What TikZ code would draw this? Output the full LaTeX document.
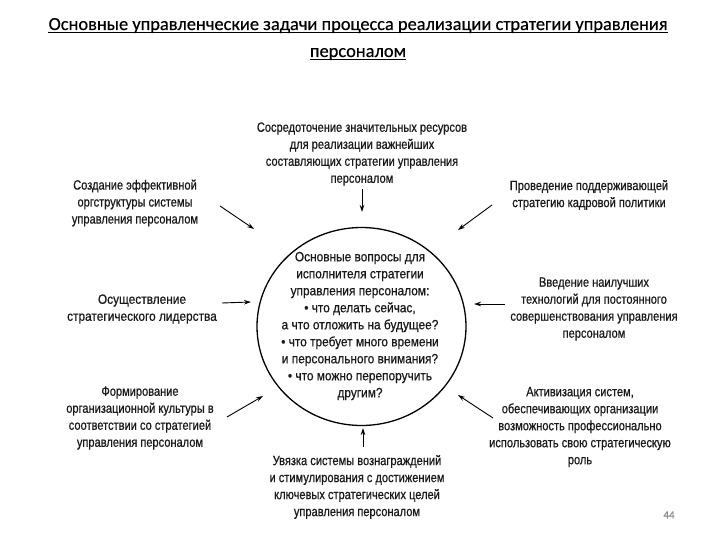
\documentclass[tikz,border=0pt]{standalone}
\usepackage{fontspec}
\setmainfont{Liberation Sans}
\newfontfamily\dfontface[FakeStretch=0.82,FakeBold=0.6]{Liberation Sans}
\newfontfamily\efontface[FakeStretch=0.88,FakeBold=0.6]{Liberation Sans}
\newfontfamily\tfontface[FakeBold=0.4]{Carlito}
\usetikzlibrary{arrows.meta}
\begin{document}
\begin{tikzpicture}[x=1pt,y=-1pt,
  txt/.style={font=\dfontface\fontsize{13.5}{17}\selectfont, align=center, inner sep=0pt, text=black!90},
  wtxt/.style={txt, font=\efontface\fontsize{13.5}{17}\selectfont},
  ttl/.style={font=\tfontface\fontsize{18.4}{27}\selectfont, inner sep=0pt, anchor=base},
  uln/.style={line width=1.2pt},
  arr/.style={-{Stealth[length=7pt,width=4.5pt]}, line width=0.9pt}]
\useasboundingbox (0,0) rectangle (720,540);
\fill[white] (0,0) rectangle (720,540);
% title
\node[ttl] (t1) at (358,30) {Основные управленческие задачи процесса реализации стратегии управления};
\node[ttl] (t2) at (358,57) {персоналом};
\draw[uln] ([yshift=-2.8pt]t1.base west) -- ([yshift=-2.8pt]t1.base east);
\draw[uln] ([yshift=-2.8pt]t2.base west) -- ([yshift=-2.8pt]t2.base east);
% circle
\draw[line width=1.3pt] (361.5,326.5) ellipse [x radius=104.5, y radius=99];
\coordinate (c) at (361.5,326.5);
\node[wtxt] (center) at (360,326) {Основные вопросы для\\исполнителя стратегии\\управления персоналом:\\• что делать сейчас,\\а что отложить на будущее?\\• что требует много времени\\и персонального внимания?\\• что можно перепоручить\\другим?};
% surrounding texts
\node[txt] (top) at (362,154) {Сосредоточение значительных ресурсов\\для реализации важнейших\\составляющих стратегии управления\\персоналом};
\node[txt] (tl) at (135,203) {Создание эффективной\\оргструктуры системы\\управления персоналом};
\node[wtxt] (l) at (142,309) {Осуществление\\стратегического лидерства};
\node[txt] (bl) at (140,418) {Формирование\\организационной культуры в\\соответствии со стратегией\\управления персоналом};
\node[txt] (tr) at (589,195) {Проведение поддерживающей\\стратегию кадровой политики};
\node[txt] (r) at (594,309) {Введение наилучших\\технологий для постоянного\\совершенствования управления\\персоналом};
\node[txt] (br) at (580,427) {Активизация систем,\\обеспечивающих организации\\возможность профессионально\\использовать свою стратегическую\\роль};
\node[txt] (b) at (357,487) {Увязка системы вознаграждений\\и стимулирования с достижением\\ключевых стратегических целей\\управления персоналом};
% arrow end points
\coordinate (topS) at (362,189);  \coordinate (topE) at (362,212);
\coordinate (tlS) at (220,206);   \coordinate (tlE) at (254,229);
\coordinate (trS) at (492,205);   \coordinate (trE) at (458,230);
\coordinate (lS) at (222,303);    \coordinate (lE) at (251,302);
\coordinate (rS) at (505,304);    \coordinate (rE) at (474,304);
\coordinate (blS) at (227,417);   \coordinate (blE) at (263,396);
\coordinate (brS) at (493,418);   \coordinate (brE) at (458,395);
\coordinate (bS) at (363,447);    \coordinate (bE) at (363,428);
\draw[arr] (topS) -- (topE);
\draw[arr] (tlS) -- (tlE);
\draw[arr] (trS) -- (trE);
\draw[arr] (lS) -- (lE);
\draw[arr] (rS) -- (rE);
\draw[arr] (blS) -- (blE);
\draw[arr] (brS) -- (brE);
\draw[arr] (bS) -- (bE);
% page number
\node[font=\tfontface\fontsize{11}{13}\selectfont, text=black!45, inner sep=0pt] (pg) at (669,515) {44};
\end{tikzpicture}
\end{document}
